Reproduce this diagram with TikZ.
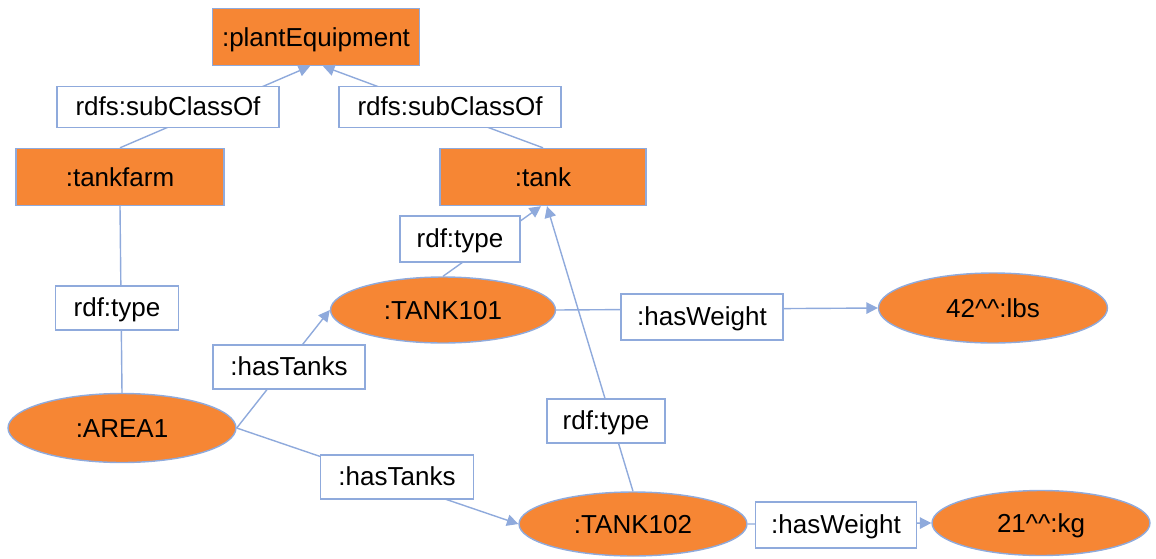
\documentclass[tikz,border=0pt]{standalone}
\usepackage{fontspec}
\setmainfont{Liberation Sans}
\usepackage{tikz}
\usetikzlibrary{arrows.meta,shapes.geometric}

\definecolor{rdforange}{RGB}{246,134,52}
\definecolor{rdfblue}{RGB}{143,170,220}

\tikzset{
	cls/.style={draw=rdfblue, line width=0.8pt, fill=rdforange, rectangle, inner sep=0pt, minimum height=1.14cm, text height=13.5pt, text depth=2.5pt},
	inst/.style={draw=rdfblue, line width=0.8pt, fill=rdforange, ellipse, inner sep=0pt, text height=13.5pt, text depth=2.5pt},
	prop/.style={draw=rdfblue, line width=0.8pt, fill=white, rectangle, inner sep=0pt, text height=13pt, text depth=3pt},
	conn/.style={color=rdfblue, line width=0.8pt},
	arr/.style={conn, -{Triangle[length=6.5pt,width=6.5pt]}}
}

\begin{document}
\begin{tikzpicture}[x=0.02cm, y=-0.02cm, font=\fontsize{14.8}{18}\selectfont]
\useasboundingbox (0,0) rectangle (1156,558);
\node[cls, minimum width=4.14cm] (pe) at (316,37) {:plantEquipment};
\node[cls, minimum width=4.16cm] (farm) at (120,177) {:tankfarm};
\node[cls, minimum width=4.12cm] (tank) at (543,177) {:tank};
\node[inst, minimum width=4.56cm, minimum height=1.38cm] (area) at (122,428) {:AREA1};
\node[inst, minimum width=4.50cm, minimum height=1.32cm] (t101) at (443,310) {:TANK101};
\node[inst, minimum width=4.56cm, minimum height=1.28cm] (t102) at (633,524) {:TANK102};
\node[inst, minimum width=4.58cm, minimum height=1.40cm] (lbs) at (993,308) {42\textasciicircum\textasciicircum:lbs};
\node[inst, minimum width=4.36cm, minimum height=1.30cm] (kg) at (1041,523) {21\textasciicircum\textasciicircum:kg};
\path[arr]
(farm.north) edge ([xshift=-0.12cm]pe.south)
(tank.north) edge ([xshift=0.14cm]pe.south)
(t101.north) edge ([xshift=-0.04cm]tank.south)
(t102.north) edge ([xshift=0.08cm]tank.south)
(area.east) edge (t101.west)
(area.east) edge (t102.west)
(t101.east) edge (lbs.west)
(t102.east) edge (kg.west)
;
\path[conn] (farm.south) edge (area.north);
\node[prop, minimum width=4.44cm, minimum height=0.82cm] (scoL) at (168,107) {rdfs:subClassOf};
\node[prop, minimum width=4.44cm, minimum height=0.82cm] (scoR) at (450,107) {rdfs:subClassOf};
\node[prop, minimum width=2.46cm, minimum height=0.88cm] (typeFarm) at (117,308) {rdf:type};
\node[prop, minimum width=2.40cm, minimum height=0.92cm] (typeA) at (460,239) {rdf:type};
\node[prop, minimum width=2.36cm, minimum height=0.88cm] (typeB) at (606,421) {rdf:type};
\node[prop, minimum width=3.04cm, minimum height=0.88cm] (tanksA) at (289,367) {:hasTanks};
\node[prop, minimum width=3.06cm, minimum height=0.88cm] (tanksB) at (397,477) {:hasTanks};
\node[prop, minimum width=3.24cm, minimum height=0.92cm] (weightA) at (702,317) {:hasWeight};
\node[prop, minimum width=3.22cm, minimum height=0.92cm] (weightB) at (836,525) {:hasWeight};
\end{tikzpicture}
\end{document}
